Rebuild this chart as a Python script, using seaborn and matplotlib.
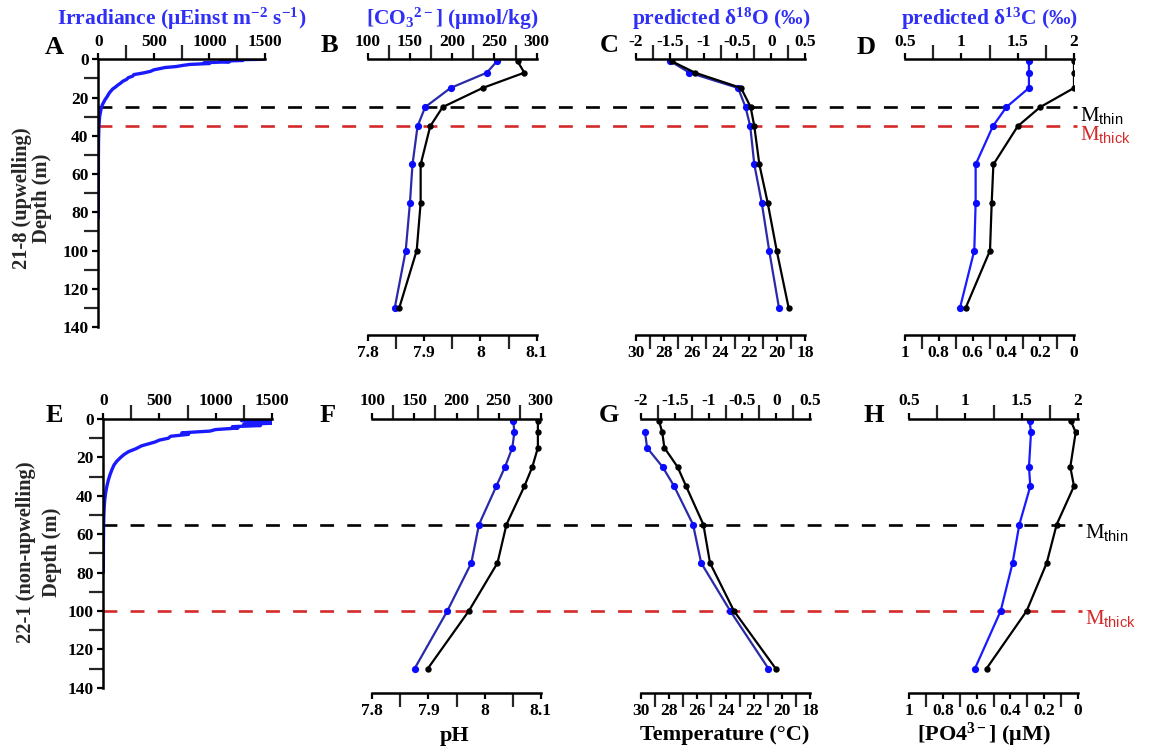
import numpy as np
import matplotlib
matplotlib.use("Agg")
import matplotlib.pyplot as plt
import seaborn as sns
from matplotlib.ticker import MultipleLocator, FuncFormatter
from matplotlib.transforms import blended_transform_factory, ScaledTranslation
from matplotlib.lines import Line2D

# ---------------- data ----------------
sample_depths = [1, 7, 15, 25, 35, 55, 75, 100, 130]

# station 21-8 (upwelling)
irr_depth_218 = [0, 0.3, 0.6, 1.0, 1.3, 1.8, 2.2, 2.7, 3.2, 3.8, 4.3, 4.8, 5.5, 6.3, 7.2, 8.0,
                 8.8, 9.6, 10.5, 11.5, 12.5, 13.5, 14.5, 15.5, 16.5, 17.5, 18.5, 19.5, 21, 22.5,
                 24, 26, 28, 30, 33, 36, 40, 45, 50, 60, 70, 83]
irr_218 = [1490, 1150, 1300, 1100, 1180, 950, 1000, 820, 760, 700, 600, 560, 500, 470, 400, 320,
           310, 270, 255, 220, 200, 175, 155, 130, 115, 100, 90, 80, 62, 48,
           35, 25, 18, 12, 8, 5, 3, 1.5, 1, 0.5, 0.2, 0]
co3_218 = [253, 241, 198, 168, 159, 153, 150, 145, 132]
ph_218 = [8.066, 8.078, 8.004, 7.933, 7.911, 7.894, 7.894, 7.887, 7.856]
d18o_218 = [-1.49, -1.21, -0.49, -0.38, -0.31, -0.25, -0.14, -0.03, 0.115]
temp_218 = [27.47, 25.81, 22.54, 21.86, 21.6, 21.24, 20.65, 20.01, 19.16]
d13c_218 = [1.60, 1.60, 1.60, 1.40, 1.28, 1.127, 1.127, 1.115, 0.988]
po4_218 = [0.0, 0.0, 0.0, 0.20, 0.333, 0.477, 0.487, 0.497, 0.641]
mthin_218 = 25
mthick_218 = 35

# station 22-1 (non-upwelling)
irr_depth_221 = [0, 0.4, 0.8, 1.2, 1.7, 2.2, 2.8, 3.4, 4.0, 4.7, 5.5, 6.3, 7.2, 8.0, 9.0, 10.0,
                 11.0, 12.0, 13.0, 14.0, 15.5, 17, 18.5, 20, 22, 24, 26.5, 29, 32, 35, 38, 42,
                 46, 50, 56, 62, 70, 80]
irr_221 = [1250, 1495, 1230, 1480, 1300, 1500, 1250, 1400, 1150, 1200, 1000, 950, 700, 760, 600, 580,
           500, 460, 400, 340, 290, 225, 185, 155, 120, 95, 76, 60, 44, 32, 22, 13,
           8, 5, 2.5, 1.5, 0.8, 0]
co3_221 = [267.5, 268.7, 266.3, 257.6, 247.3, 226.7, 217.6, 189.1, 150.3]
ph_221 = [8.095, 8.095, 8.095, 8.085, 8.071, 8.039, 8.023, 7.972, 7.899]
d18o_221 = [np.nan, -1.94, -1.91, -1.68, -1.51, -1.23, -1.11, -0.68, -0.116]
temp_221 = [28.72, 28.49, 28.34, 27.40, 26.80, 25.57, 25.10, 23.40, 20.44]
d13c_221 = [1.572, 1.584, np.nan, 1.566, 1.578, 1.48, 1.42, 1.314, 1.085]
po4_221 = [0.040, 0.012, np.nan, 0.044, 0.022, 0.125, 0.184, 0.303, 0.541]
mthin_221 = 55
mthick_221 = 100

letters = [["A", "B", "C", "D"], ["E", "F", "G", "H"]]
top_titles = ["Irradiance (μEinst m$^{\\mathrm{-2}}$ s$^{\\mathrm{-1}}$)",
              "[CO$_{\\mathrm{3}}$$^{\\mathrm{2-}}$] (μmol/kg)",
              "predicted δ$^{\\mathrm{18}}$O (‰)",
              "predicted δ$^{\\mathrm{13}}$C (‰)"]
bottom_labels = ["pH", "Temperature (°C)", "[PO4$^{\\mathrm{3-}}$] (μM)"]

# ---------------- style ----------------
sns.set_theme(style="ticks")
plt.rcParams.update({
    "font.family": ["Liberation Serif", "DejaVu Serif"],
    "font.weight": "bold",
    "mathtext.fontset": "custom",
    "mathtext.rm": "Liberation Serif:bold",
    "mathtext.it": "Liberation Serif:italic:bold",
    "mathtext.bf": "Liberation Serif:bold",
    "mathtext.sf": "Liberation Sans:normal",
    "axes.linewidth": 1.5,
    "axes.unicode_minus": False,
    "lines.scale_dashes": False,
})

W, H = 1151, 754
fig = plt.figure(figsize=(W / 100, H / 100), dpi=100)
fig.patch.set_facecolor("white")

BLUE_T = "#2f2ff5"
NAVY = "#2a2aa8"
BRIGHT = "#1a1aff"
MARK_B = "#0a0aff"
RED = "#d42a2a"
TICK_FS = 12.5


def fx(px):
    return px / W


def fy(py):
    return 1 - py / H


def add_ax(l, t, r, b):
    ax = fig.add_axes([fx(l), fy(b), (r - l) / W, (b - t) / H])
    ax.patch.set_visible(False)
    return ax


fmt = FuncFormatter(lambda v, p: "%g" % round(v, 6))


def style_x(ax, major, minor, lim, where):
    ax.set_xlim(*lim)
    if where == "top":
        ax.xaxis.tick_top()
    else:
        ax.xaxis.tick_bottom()
    ax.xaxis.set_label_position(where)
    ax.xaxis.set_major_locator(MultipleLocator(major))
    ax.xaxis.set_minor_locator(MultipleLocator(minor))
    ax.xaxis.set_major_formatter(fmt)
    ax.tick_params(axis="x", which="major", length=4, width=1.6, pad=3, labelsize=TICK_FS,
                   direction="out", top=(where == "top"), bottom=(where == "bottom"),
                   labeltop=(where == "top"), labelbottom=(where == "bottom"), colors="black")
    ax.tick_params(axis="x", which="minor", length=10, width=1.6, direction="out",
                   top=(where == "top"), bottom=(where == "bottom"),
                   labeltop=False, labelbottom=False)


rows = [
    dict(top=59.3, bot=327, boff=5.8,
         xs=[(98.3, 265), (367.7, 536.7), (636, 805), (905, 1074)],
         irr_d=irr_depth_218, irr=irr_218,
         blue=[co3_218, d18o_218, d13c_218], black=[ph_218, temp_218, po4_218],
         mthin=mthin_218, mthick=mthick_218, dash=(98, 1077),
         ylab=("21-8 (upwelling)", "Depth (m)"), ylx=(22.5, 41.7), yly=198,
         letter_pos=[(54, 47), (329, 46), (609, 46), (866, 47)]),
    dict(top=419, bot=687.7, boff=4.0,
         xs=[(103.3, 271.7), (372.3, 540.7), (641, 810), (909.3, 1077.7)],
         irr_d=irr_depth_221, irr=irr_221,
         blue=[co3_221, d18o_221, d13c_221], black=[ph_221, temp_221, po4_221],
         mthin=mthin_221, mthick=mthick_221, dash=(103, 1082),
         ylab=("22-1 (non-upwelling)", "Depth (m)"), ylx=(26, 51.7), yly=552,
         letter_pos=[(54, 415), (328, 415), (609, 415), (874, 415)]),
]

top_cfg = [((100, 300), 50, 25), ((-2, 0.5), 0.5, 0.25), ((0.5, 2), 0.5, 0.25)]
bot_cfg = [((7.8, 8.1), 0.1, 0.05), ((30, 18), 2, 1), ((1, 0), 0.2, 0.1)]
blue_line_cols = [NAVY, NAVY, BRIGHT]

for ri, row in enumerate(rows):
    # irradiance panel
    l, r = row["xs"][0]
    axA = add_ax(l, row["top"], r, row["bot"])
    sns.lineplot(x=row["irr"], y=row["irr_d"], sort=False, estimator=None, ax=axA,
                 color=BRIGHT, lw=2.4)
    axA.set_ylim(140, 0)
    style_x(axA, 500, 250, (0, 1500), "top")
    axA.yaxis.set_major_locator(MultipleLocator(20))
    axA.yaxis.set_minor_locator(MultipleLocator(10))
    axA.yaxis.set_major_formatter(fmt)
    axA.tick_params(axis="y", which="major", length=4, width=1.6, pad=3, labelsize=TICK_FS,
                    direction="out", left=True, labelleft=True, colors="black")
    axA.tick_params(axis="y", which="minor", length=10, width=1.6, direction="out", left=True)
    for s in ["right", "bottom"]:
        axA.spines[s].set_visible(False)
    for s in ["top", "left"]:
        axA.spines[s].set_linewidth(1.8)
        axA.spines[s].set_color("black")
    axA.set_xlabel("")
    axA.set_ylabel("")

    for k in range(3):
        l, r = row["xs"][k + 1]
        ax = add_ax(l, row["top"], r, row["bot"])
        ax2 = ax.twiny()
        ax2.patch.set_visible(False)
        d = np.array(sample_depths, dtype=float)

        bv = np.array(row["blue"][k], dtype=float)
        m = ~np.isnan(bv)
        sns.lineplot(x=bv[m], y=d[m], sort=False, estimator=None, ax=ax,
                     color=blue_line_cols[k], lw=1.6,
                     marker="o", markersize=5.2, markerfacecolor=MARK_B,
                     markeredgecolor=MARK_B, markeredgewidth=0)

        kv = np.array(row["black"][k], dtype=float)
        m2 = ~np.isnan(kv)
        sns.lineplot(x=kv[m2], y=d[m2], sort=False, estimator=None, ax=ax2, color="black",
                     lw=1.6, marker="o", markersize=4.6, markerfacecolor="black",
                     markeredgecolor="black", markeredgewidth=0)

        ax.set_ylim(140, 0)
        ax2.set_ylim(140, 0)
        (lo, hi), maj, mnr = top_cfg[k]
        style_x(ax, maj, mnr, (lo, hi), "top")
        (lo, hi), maj, mnr = bot_cfg[k]
        style_x(ax2, maj, mnr, (lo, hi), "bottom")

        ax.tick_params(axis="y", which="both", left=False, labelleft=False,
                       right=False, labelright=False)
        for s in ["left", "right", "bottom"]:
            ax.spines[s].set_visible(False)
        ax.spines["top"].set_visible(True)
        ax.spines["top"].set_linewidth(1.8)
        ax.spines["top"].set_color("black")

        for s in ["left", "right", "top"]:
            ax2.spines[s].set_visible(False)
        ax2.spines["bottom"].set_visible(True)
        ax2.spines["bottom"].set_linewidth(1.8)
        ax2.spines["bottom"].set_color("black")
        ax2.spines["bottom"].set_position(("outward", row["boff"]))
        for a in (ax, ax2):
            a.set_xlabel("")
            a.set_ylabel("")

    # dashed marker lines across the row
    btr = blended_transform_factory(fig.transFigure, axA.transData)
    x0, x1 = row["dash"]
    for depth, col in [(row["mthin"], "black"), (row["mthick"], RED)]:
        ln = Line2D([fx(x0), fx(x1)], [depth, depth], transform=btr, color=col, lw=1.9,
                    linestyle=(0, (10, 9.5)), zorder=-1)
        fig.add_artist(ln)
    off = ScaledTranslation(0, -0.135, fig.dpi_scale_trans)
    fig.text(fx(x1 + 3), row["mthin"], "M$_{\\mathsf{thin}}$", transform=btr + off,
             ha="left", va="baseline", fontsize=15, fontweight="normal", color="black")
    fig.text(fx(x1 + 3), row["mthick"], "M$_{\\mathsf{thick}}$", transform=btr + off,
             ha="left", va="baseline", fontsize=15, fontweight="normal", color=RED)

    # panel letters
    for (px, py), let in zip(row["letter_pos"], letters[ri]):
        fig.text(fx(px), fy(py), let, ha="center", va="center", fontsize=19,
                 fontweight="bold", color="black")

    # y-axis label (two lines)
    for lx, lt in zip(row["ylx"], row["ylab"]):
        fig.text(fx(lx), fy(row["yly"]), lt, rotation=90, ha="center",
                 va="center", fontsize=14.8, fontweight="bold")

# top titles (blue)
for (px, py), t in zip([(182, 19), (452, 19), (721, 19), (990, 19)], top_titles):
    fig.text(fx(px), fy(py), t, ha="center", va="center", fontsize=15.5, fontweight="bold",
             color=BLUE_T)

# bottom axis labels
for (px, py), t in zip([(455, 736), (725, 735), (984, 735)], bottom_labels):
    fig.text(fx(px), fy(py), t, ha="center", va="center", fontsize=16, fontweight="bold",
             color="black")

fig.savefig("out.png", dpi=100, facecolor="white")
